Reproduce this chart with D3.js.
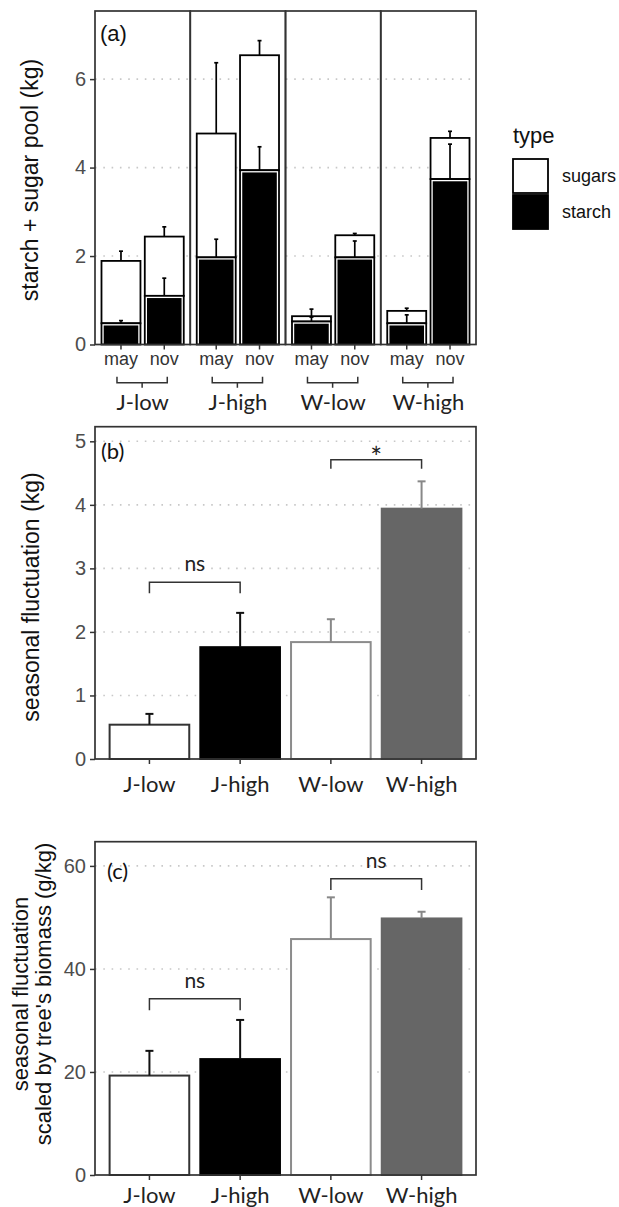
<!DOCTYPE html>
<html>
<head>
<meta charset="utf-8">
<script src="https://cdn.jsdelivr.net/npm/d3@7"></script>
<style>
  body { margin: 0; background: #fff; }
</style>
</head>
<body>
<div id="chart"></div>
<script>
// ---- data ----
var groups = ["J-low", "J-high", "W-low", "W-high"];
var months = ["may", "nov"];
var poolTypes = ["sugars", "starch"];

// panel (a): total pool and starch part, [may, nov] for each group
var totalPool  = [[1.89, 2.44], [4.77, 6.54], [0.64, 2.47], [0.76, 4.67]];
var totalSE    = [[0.22, 0.22], [1.60, 0.33], [0.16, 0.04], [0.06, 0.15]];
var starchPool = [[0.48, 1.10], [1.97, 3.94], [0.52, 1.97], [0.48, 3.74]];
var starchSE   = [[0.06, 0.40], [0.41, 0.53], [0.10, 0.37], [0.19, 0.79]];
var poolTicks  = [0, 2, 4, 6];

// panel (b): seasonal fluctuation (kg)
var fluct      = [0.54, 1.76, 1.84, 3.94];
var fluctSE    = [0.17, 0.54, 0.36, 0.43];
var fluctTicks = [0, 1, 2, 3, 4, 5];
var fluctTests = [
    { a: "J-low", b: "J-high", label: "ns", y: 2.78, drop: 0.17 },
    { a: "W-low", b: "W-high", label: "*", y: 4.71, drop: 0.14 }
];

// panel (c): fluctuation scaled by biomass (g/kg)
var scaled      = [19.3, 22.5, 45.8, 49.8];
var scaledSE    = [4.8, 7.6, 8.1, 1.3];
var scaledTicks = [0, 20, 40, 60];
var scaledTests = [
    { a: "J-low", b: "J-high", label: "ns", y: 34.2, drop: 2.2 },
    { a: "W-low", b: "W-high", label: "ns", y: 57.5, drop: 2.2 }
];

// ---- look ----
var arial = "'Liberation Sans', Arial, sans-serif",
    calibri = "Lato, 'Open Sans', sans-serif",
    ink = "#333",
    gridColor = "#c8c8c8";

var barFill   = ["#fff", "#000", "#fff", "#666"],
    barStroke = ["#333", "#000", "#8c8c8c", "#666"],
    errColor  = ["#111", "#111", "#888", "#888"];

var W = 619, H = 1207, left = 95, right = 476;

var svg = d3.select("#chart").append("svg")
    .attr("width", W)
    .attr("height", H);

function styleAxis(g, size, family, color) {
    g.select(".domain").remove();
    g.attr("font-size", null).attr("font-family", null);
    g.selectAll(".tick line").attr("stroke", ink).attr("stroke-width", 1.5);
    g.selectAll(".tick text")
        .attr("font-size", size)
        .attr("font-family", family)
        .attr("fill", color);
}

function grid(y, ticks) {
    svg.append("g").selectAll("line")
        .data(ticks.filter(function (t) { return t > 0; }))
        .enter()
        .append("line")
        .attr("x1", left).attr("x2", right)
        .attr("y1", function (d) { return y(d); })
        .attr("y2", function (d) { return y(d); })
        .attr("stroke", gridColor)
        .attr("stroke-width", 1.6)
        .attr("stroke-dasharray", "1.6,6.7");
}

function yAxis(y, ticks) {
    var g = svg.append("g")
        .attr("transform", "translate(" + left + ",0)")
        .call(d3.axisLeft(y).tickValues(ticks).tickFormat(d3.format("d")).tickSize(5).tickPadding(4));
    styleAxis(g, 20, arial, "#4d4d4d");
}

function yTitle(lines, x, yc, size) {
    var t = svg.append("text")
        .attr("transform", "translate(" + x + "," + yc + ") rotate(-90)")
        .attr("text-anchor", "middle")
        .attr("font-family", arial)
        .attr("font-size", size)
        .attr("fill", "#111");
    lines.forEach(function (s, i) {
        t.append("tspan")
            .attr("x", 0)
            .attr("dy", i === 0 ? "0.35em" : "1.05em")
            .text(s);
    });
}

function errBar(g, x, y0, y1, color, cap, width) {
    g.append("line")
        .attr("x1", x).attr("x2", x)
        .attr("y1", y0).attr("y2", y1)
        .attr("stroke", color).attr("stroke-width", width);
    g.append("line")
        .attr("x1", x - cap / 2).attr("x2", x + cap / 2)
        .attr("y1", y1).attr("y2", y1)
        .attr("stroke", color).attr("stroke-width", width);
}

// ================= panel (a) =================
var aTop = 11, aBottom = 344.5;
var yA = d3.scaleLinear().domain([0, 7.54]).range([aBottom, aTop]);
var facet = d3.scaleBand().domain(groups).range([left, right]);
var xIn = d3.scaleBand().domain(months)
    .range([0, facet.bandwidth()])
    .paddingInner(0.1)
    .paddingOuter(0.15);

grid(yA, poolTicks);

groups.forEach(function (name, gi) {
    var g = svg.append("g").attr("transform", "translate(" + facet(name) + ",0)");

    months.forEach(function (m, mi) {
        var x = xIn(m), w = xIn.bandwidth(),
            tot = totalPool[gi][mi], st = starchPool[gi][mi];

        // sugars on top of starch
        g.append("rect")
            .attr("x", x).attr("y", yA(tot))
            .attr("width", w).attr("height", yA(st) - yA(tot))
            .attr("fill", "#fff").attr("stroke", "#000").attr("stroke-width", 1.8);
        g.append("rect")
            .attr("x", x).attr("y", yA(st))
            .attr("width", w).attr("height", yA(0) - yA(st))
            .attr("fill", "#fff").attr("stroke", "#000").attr("stroke-width", 1.8);
        g.append("rect")
            .attr("x", x + 2.2).attr("y", yA(st) + 2.2)
            .attr("width", w - 4.4).attr("height", Math.max(0, yA(0) - yA(st) - 2.2))
            .attr("fill", "#000");

        var cx = x + w / 2;
        errBar(g, cx, yA(tot), yA(tot + totalSE[gi][mi]), "#000", 4, 1.7);
        errBar(g, cx, yA(st), yA(st + starchSE[gi][mi]), "#000", 4, 1.7);
    });

    // facet frame
    g.append("rect")
        .attr("x", 0).attr("y", aTop)
        .attr("width", facet.bandwidth()).attr("height", aBottom - aTop)
        .attr("fill", "none").attr("stroke", ink).attr("stroke-width", 1.7);

    var ax = g.append("g")
        .attr("transform", "translate(0," + aBottom + ")")
        .call(d3.axisBottom(xIn).tickSize(5).tickPadding(3));
    styleAxis(ax, 18, arial, "#333");

    // brace under may/nov
    var c1 = xIn("may") + xIn.bandwidth() / 2 - 4,
        c2 = xIn("nov") + xIn.bandwidth() / 2 + 3,
        by = 382.7;
    g.append("path")
        .attr("d", "M" + c1 + "," + (by - 6) + "V" + by + "H" + c2 + "V" + (by - 6) +
              "M" + (c1 + c2) / 2 + "," + by + "v5")
        .attr("fill", "none").attr("stroke", ink).attr("stroke-width", 1.5);

    g.append("text")
        .attr("x", facet.bandwidth() / 2).attr("y", 410)
        .attr("text-anchor", "middle")
        .attr("font-family", calibri).attr("font-size", 22)
        .attr("fill", "#222")
        .text(name);
});

yAxis(yA, poolTicks);
yTitle(["starch + sugar pool (kg)"], 30, 180, 23);

svg.append("text")
    .attr("x", 100).attr("y", 41)
    .attr("font-family", arial).attr("font-size", 22)
    .attr("fill", "#111")
    .text("(a)");

// legend
var leg = svg.append("g").attr("transform", "translate(513,0)");
leg.append("text")
    .attr("x", 0).attr("y", 143)
    .attr("font-family", arial).attr("font-size", 22)
    .attr("fill", "#111")
    .text("type");
poolTypes.forEach(function (t, i) {
    var ky = 159 + i * 36;
    leg.append("rect")
        .attr("x", 0).attr("y", ky)
        .attr("width", 35).attr("height", 34)
        .attr("fill", i === 0 ? "#fff" : "#000")
        .attr("stroke", "#000").attr("stroke-width", 1.8);
    leg.append("text")
        .attr("x", 49).attr("y", ky + 17)
        .attr("dy", "0.35em")
        .attr("font-family", arial).attr("font-size", 18)
        .attr("fill", "#111")
        .text(t);
});

// ================= panels (b) and (c) =================
function barPanel(opt) {
    var y = d3.scaleLinear().domain([0, opt.ymax]).range([opt.bottom, opt.top]);
    var x = d3.scaleBand().domain(groups).range([left, right])
        .paddingInner(0.1)
        .paddingOuter(0.15);

    grid(y, opt.ticks);

    svg.append("g").selectAll("rect")
        .data(opt.values)
        .enter()
        .append("rect")
        .attr("x", function (d, i) { return x(groups[i]) + 1; })
        .attr("y", function (d) { return y(d); })
        .attr("width", x.bandwidth() - 2)
        .attr("height", function (d) { return y(0) - y(d); })
        .attr("fill", function (d, i) { return barFill[i]; })
        .attr("stroke", function (d, i) { return barStroke[i]; })
        .attr("stroke-width", 2);

    var eg = svg.append("g");
    opt.values.forEach(function (v, i) {
        var cx = x(groups[i]) + x.bandwidth() / 2;
        errBar(eg, cx, y(v), y(v + opt.se[i]), errColor[i], 8, 2);
    });

    svg.append("rect")
        .attr("x", left).attr("y", opt.top)
        .attr("width", right - left).attr("height", opt.bottom - opt.top)
        .attr("fill", "none").attr("stroke", ink).attr("stroke-width", 1.7);

    var ax = svg.append("g")
        .attr("transform", "translate(0," + opt.bottom + ")")
        .call(d3.axisBottom(x).tickSize(5).tickPadding(opt.labelPad));
    styleAxis(ax, 22, calibri, "#222");

    yAxis(y, opt.ticks);

    // significance brackets
    opt.tests.forEach(function (t) {
        var x1 = x(t.a) + x.bandwidth() / 2,
            x2 = x(t.b) + x.bandwidth() / 2,
            star = t.label === "*";
        svg.append("path")
            .attr("d", "M" + x1 + "," + y(t.y - t.drop) + "V" + y(t.y) +
                  "H" + x2 + "V" + y(t.y - t.drop))
            .attr("fill", "none").attr("stroke", ink).attr("stroke-width", 1.5);
        svg.append("text")
            .attr("x", (x1 + x2) / 2).attr("y", y(t.y) + (star ? 8 : -11))
            .attr("text-anchor", "middle")
            .attr("font-family", calibri).attr("font-size", star ? 28 : 21)
            .attr("fill", "#222")
            .text(t.label);
    });

    svg.append("text")
        .attr("x", opt.tagX).attr("y", opt.tagY)
        .attr("font-family", calibri).attr("font-size", 22)
        .attr("fill", "#111")
        .text(opt.tag);
}

barPanel({
    top: 426.7, bottom: 759, ymax: 5.23,
    values: fluct, se: fluctSE, ticks: fluctTicks, tests: fluctTests,
    labelPad: 12, tag: "(b)", tagX: 101, tagY: 459
});
yTitle(["seasonal fluctuation (kg)"], 31, 597, 23);

barPanel({
    top: 841.7, bottom: 1175, ymax: 64.7,
    values: scaled, se: scaledSE, ticks: scaledTicks, tests: scaledTests,
    labelPad: 7, tag: "(c)", tagX: 107, tagY: 879
});
yTitle(["seasonal fluctuation", "scaled by tree's biomass (g/kg)"], 20, 994, 22);
</script>
</body>
</html>
